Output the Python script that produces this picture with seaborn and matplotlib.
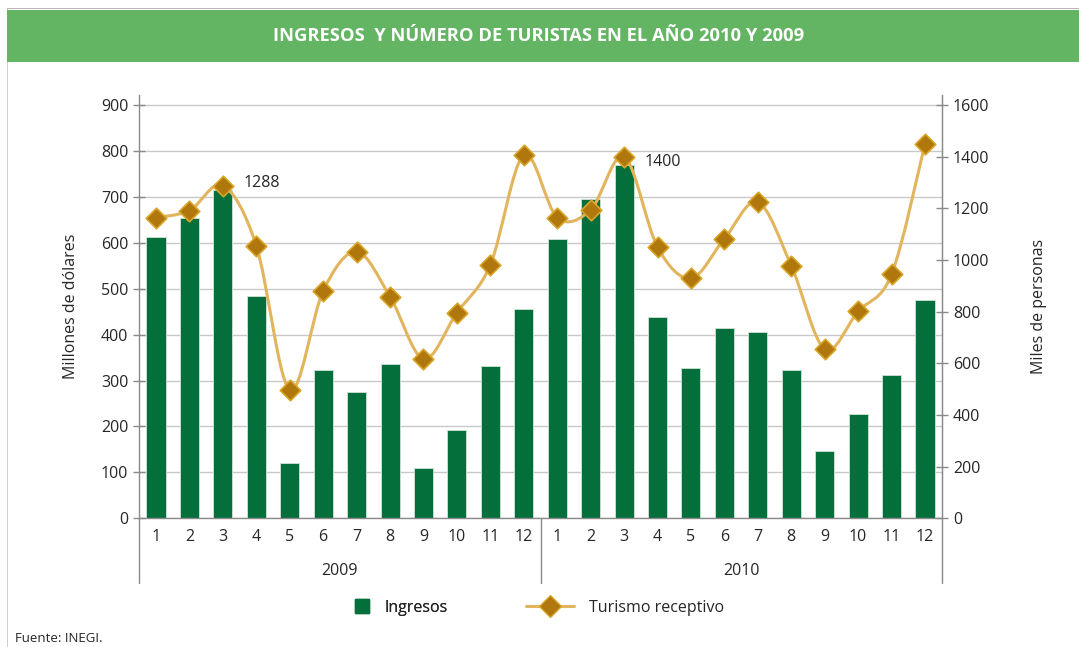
import numpy as np
import pandas as pd
import matplotlib
matplotlib.use("Agg")
import matplotlib.pyplot as plt
import seaborn as sns
from matplotlib.path import Path
from matplotlib.patches import PathPatch, Rectangle
from matplotlib.lines import Line2D
from matplotlib.transforms import blended_transform_factory

# datos
years = ["2009", "2010"]
months = [str(m) for m in range(1, 13)]
ingresos_2009 = [613, 654, 715, 484, 120, 322, 276, 336, 110, 193, 332, 456]
ingresos_2010 = [608, 696, 770, 438, 327, 414, 406, 322, 147, 226, 313, 475]
turistas_2009 = [1164, 1191, 1288, 1055, 497, 880, 1032, 858, 617, 796, 981, 1406]
turistas_2010 = [1164, 1194, 1400, 1050, 929, 1082, 1224, 978, 655, 801, 944, 1449]

BAR = "#046f3b"
LINE = "#e2b55c"
MK = "#b0780c"
MK_EDGE = "#d9a52a"
GRID = "#c9c9c9"
SPINE = "#8a8a8a"

df = pd.DataFrame({
    "pos": range(24),
    "mes": months * 2,
    "anio": [years[0]] * 12 + [years[1]] * 12,
    "ingresos": ingresos_2009 + ingresos_2010,
    "turistas": turistas_2009 + turistas_2010,
})

sns.set_style("white")
plt.rcParams["font.family"] = ["Open Sans", "DejaVu Sans"]

fig = plt.figure(figsize=(10.79, 6.47), dpi=100)

# banda del titulo y marco
fig.patches.append(Rectangle((7 / 1079, 1 - 9 / 647), 1, 1 / 647, transform=fig.transFigure,
                             facecolor="#b8b8b8", edgecolor="none"))
fig.patches.append(Rectangle((7 / 1079, 0), 1 / 1079, 1 - 9 / 647, transform=fig.transFigure,
                             facecolor="#cfcfcf", edgecolor="none"))
fig.patches.append(Rectangle((7 / 1079, 1 - 62 / 647), 1, 52 / 647, transform=fig.transFigure,
                             facecolor="#64b563", edgecolor="none"))
fig.text(539 / 1079, 1 - 36 / 647, "INGRESOS  Y NÚMERO DE TURISTAS EN EL AÑO 2010 Y 2009",
         ha="center", va="center", color="white", fontsize=13.2, fontweight="bold")

ax = fig.add_axes([139.3 / 1079, 1 - 518.3 / 647, (941.7 - 139.3) / 1079, (518.3 - 95) / 647])
sns.barplot(data=df, x="pos", y="ingresos", color=BAR, width=0.57, saturation=1,
            edgecolor="#cfe3d6", linewidth=0.6, ax=ax, zorder=2)

ymax = 921.6
ax.set_ylim(0, ymax)
ax.set_xlim(-0.5, 23.5)
ax.set_yticks(range(0, 1000, 100))
ax.yaxis.grid(True, color=GRID, lw=1)
ax.set_axisbelow(True)
ax.tick_params(axis="y", direction="inout", length=8, color=SPINE, width=1, labelsize=11.5, pad=4)
ax.tick_params(axis="x", length=0, labelsize=11.5, pad=8)
ax.set_xticks(range(24))
ax.set_xticklabels(df["mes"])
ax.set_xlabel("")
ax.set_ylabel("Millones de dólares", fontsize=11.5, labelpad=16)
ax.spines["top"].set_visible(False)
for s in ["left", "right", "bottom"]:
    ax.spines[s].set_color(SPINE)
    ax.spines[s].set_linewidth(1)

# separadores de años y etiquetas
tr = blended_transform_factory(ax.transData, ax.transAxes)
drop = (583 - 518.3) / (518.3 - 95)
for xs in [-0.5, 11.5, 23.5]:
    ax.plot([xs, xs], [0, -drop], transform=tr, color=SPINE, lw=1, clip_on=False)
for i, y in enumerate(years):
    ax.text(5.5 + 12 * i, -(571 - 518.3) / (518.3 - 95), y, transform=tr,
            ha="center", va="center", fontsize=11.5)

# eje derecho: turistas
ax2 = ax.twinx()
ax2.set_ylim(0, ymax * 1600 / 900)
ax2.set_yticks(range(0, 1800, 200))
ax2.tick_params(axis="y", direction="inout", length=8, color=SPINE, width=1, labelsize=11.5, pad=4)
ax2.set_ylabel("Miles de personas", fontsize=11.5, labelpad=30)
for s in ["top", "left", "bottom"]:
    ax2.spines[s].set_visible(False)
ax2.spines["right"].set_color(SPINE)

# linea suavizada (Catmull-Rom -> Bezier)
xs = df["pos"].to_numpy(dtype=float)
ys = df["turistas"].to_numpy(dtype=float)
pts = np.column_stack([xs, ys])
verts = [pts[0]]
codes = [Path.MOVETO]
t = 1 / 6
for i in range(len(pts) - 1):
    p0 = pts[i - 1] if i > 0 else pts[i]
    p1, p2 = pts[i], pts[i + 1]
    p3 = pts[i + 2] if i + 2 < len(pts) else pts[i + 1]
    verts += [p1 + (p2 - p0) * t, p2 - (p3 - p1) * t, p2]
    codes += [Path.CURVE4] * 3
ax2.add_patch(PathPatch(Path(verts, codes), facecolor="none", edgecolor=LINE, lw=2.2, zorder=3))
sns.scatterplot(data=df, x="pos", y="turistas", marker="D", s=110, color=MK,
                edgecolor=MK_EDGE, linewidth=1.2, ax=ax2, zorder=4, legend=False)
ax2.set_xlim(-0.5, 23.5)
ax2.set_xlabel("")

for idx in [2, 14]:
    ax2.annotate(str(df["turistas"][idx]), (idx, df["turistas"][idx]), xytext=(15, 2 if idx == 2 else -4),
                 textcoords="offset points", fontsize=11.5, va="center", ha="left")

# leyenda en dos partes
h_bar = Line2D([0], [0], color="none", marker="s", markersize=9.5,
               markerfacecolor=BAR, markeredgecolor=BAR)
h_line = Line2D([0], [0], color=LINE, lw=2.2, marker="D", markersize=11,
                markerfacecolor=MK, markeredgecolor=MK_EDGE)
leg1 = fig.legend([h_bar], ["Ingresos"], loc="center left",
                  bbox_to_anchor=(340 / 1079, 1 - 608 / 647), frameon=False,
                  fontsize=11.5, handlelength=1.0, handletextpad=0.9)
fig.legend([h_line], ["Turismo receptivo"], loc="center left",
           bbox_to_anchor=(512 / 1079, 1 - 608 / 647), frameon=False,
           fontsize=11.5, handlelength=3.0, handletextpad=0.9)
fig.add_artist(leg1)

fig.text(15 / 1079, 1 - 638 / 647, "Fuente: INEGI.", fontsize=9.5, va="center", ha="left")

fig.savefig("out.png", dpi=100)
